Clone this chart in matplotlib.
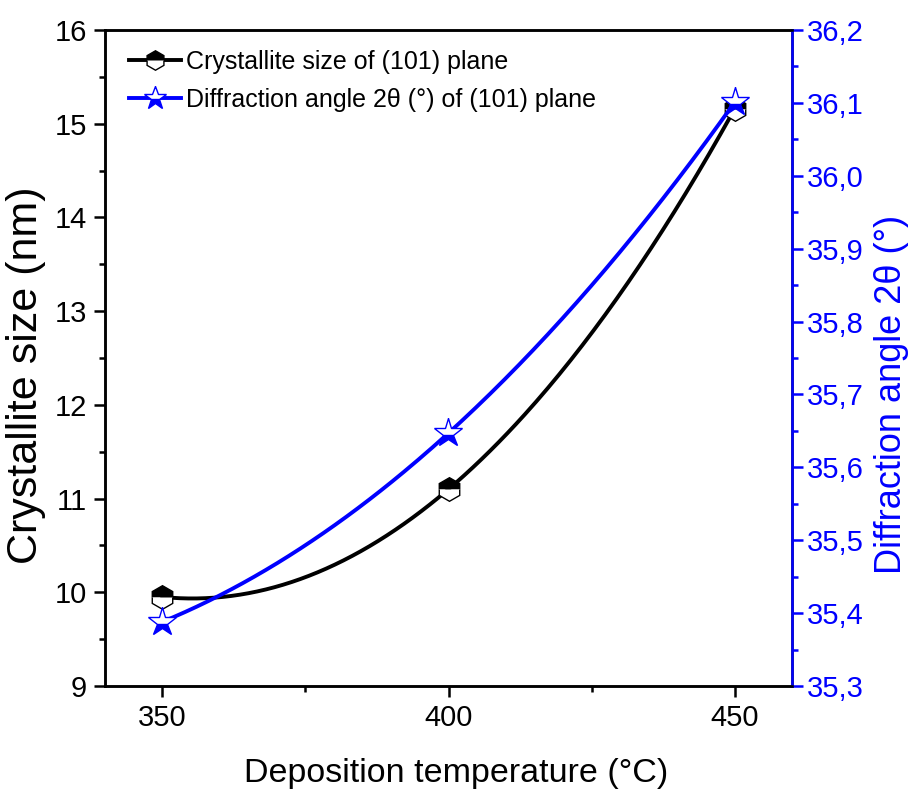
import numpy as np
import matplotlib
matplotlib.use('Agg')
import matplotlib.pyplot as plt
from matplotlib.ticker import MultipleLocator, FuncFormatter

plt.rcParams['font.family'] = ['Liberation Sans', 'DejaVu Sans']

temperature = [350, 400, 450]
crystallite_size = [9.95, 11.1, 15.16]
diffraction_angle = [35.388, 35.647, 36.101]

BLUE = '#0000ff'

fig = plt.figure(figsize=(9.09, 7.95), dpi=100)
ax = fig.add_axes([105 / 909, 1 - 686 / 795, (792 - 105) / 909, (686 - 30) / 795])
ax2 = ax.twinx()

# smooth curves through the measured points (quadratic, like Origin's spline)
xs = np.linspace(min(temperature), max(temperature), 200)
fit1 = np.polyfit(temperature, crystallite_size, 2)
fit2 = np.polyfit(temperature, diffraction_angle, 2)

ax.plot(xs, np.polyval(fit1, xs), color='black', lw=2.8, zorder=2)
ax.plot(temperature, crystallite_size, ls='none', marker='h', ms=17,
        markerfacecolor='black', markerfacecoloralt='white', fillstyle='top',
        markeredgecolor='black', markeredgewidth=1.0, zorder=3)
ax2.plot(xs, np.polyval(fit2, xs), color=BLUE, lw=2.8, zorder=2)
ax2.plot(temperature, diffraction_angle, ls='none', marker='*', ms=21,
         markerfacecolor=BLUE, markerfacecoloralt='white', fillstyle='bottom',
         markeredgecolor=BLUE, markeredgewidth=1.0, zorder=3)

# legend proxies
h1, = ax.plot([], [], color='black', lw=2.8, marker='h', ms=14,
              markerfacecolor='black', markerfacecoloralt='white', fillstyle='top',
              markeredgecolor='black', markeredgewidth=1.0)
h2, = ax.plot([], [], color=BLUE, lw=2.8, marker='*', ms=17,
              markerfacecolor=BLUE, markerfacecoloralt='white', fillstyle='bottom',
              markeredgecolor=BLUE, markeredgewidth=1.0)
ax.legend([h1, h2], ['Crystallite size of (101) plane',
                     'Diffraction angle 2\u03b8 (\u00b0) of (101) plane'],
          loc='upper left', frameon=False, fontsize=18, handlelength=2.1,
          handletextpad=0.2, labelspacing=0.55, borderaxespad=0.0,
          bbox_to_anchor=(0.02, 0.985))

ax.set_xlim(340, 460)
ax.set_ylim(9, 16)
ax2.set_ylim(35.3, 36.2)

ax.xaxis.set_major_locator(MultipleLocator(50))
ax.xaxis.set_minor_locator(MultipleLocator(25))
ax.yaxis.set_major_locator(MultipleLocator(1))
ax.yaxis.set_minor_locator(MultipleLocator(0.5))
ax2.yaxis.set_major_locator(MultipleLocator(0.1))
ax2.yaxis.set_minor_locator(MultipleLocator(0.05))
ax2.yaxis.set_major_formatter(FuncFormatter(lambda v, p: f'{v:.1f}'.replace('.', ',')))

for a in (ax, ax2):
    for s in a.spines.values():
        s.set_linewidth(1.8)
ax.tick_params(axis='both', which='major', direction='out', length=8, width=1.8,
               labelsize=21, pad=5)
ax.tick_params(axis='both', which='minor', direction='out', length=4, width=1.8)
ax.tick_params(axis='y', right=False)
ax.tick_params(axis='x', top=False, which='both')

ax2.spines['right'].set_color(BLUE)
ax2.tick_params(axis='y', which='major', direction='out', length=8, width=1.8,
                colors=BLUE, labelsize=21, pad=3)
ax2.tick_params(axis='y', which='minor', direction='out', length=4, width=1.8,
                colors=BLUE)

ax.set_xlabel('Deposition temperature (\u00b0C)', fontsize=24.5)
ax.set_ylabel('Crystallite size (nm)', fontsize=31)
ax2.set_ylabel('Diffraction angle 2\u03b8 (\u00b0)', fontsize=26, color=BLUE)

# label positions in axes coordinates
ax.xaxis.set_label_coords(0.511, -0.11)
ax.yaxis.set_label_coords(-0.086, 0.473)
ax2.yaxis.set_label_coords(1.12, 0.444)

fig.savefig('out.png', dpi=100)
